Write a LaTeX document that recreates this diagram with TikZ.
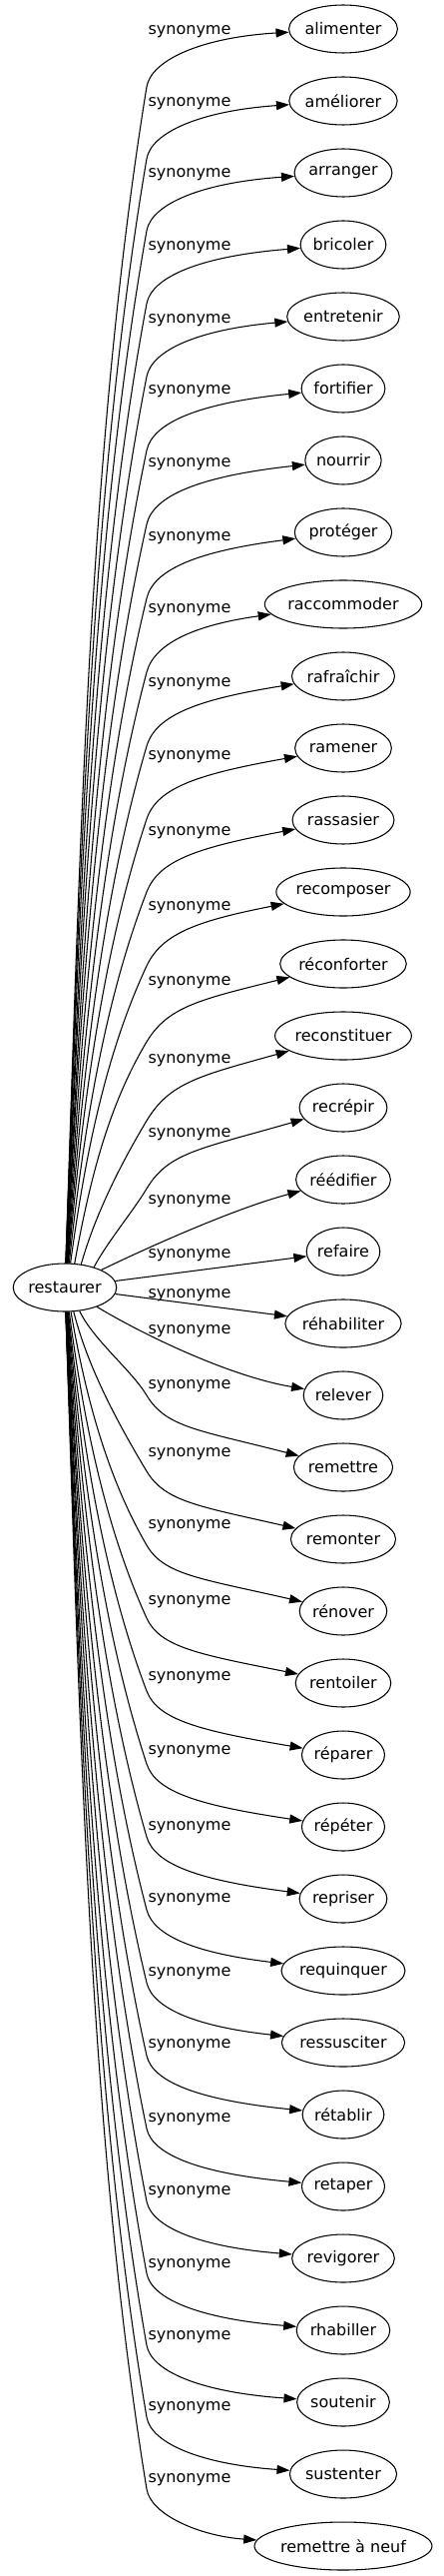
\documentclass[tikz,border=0pt]{standalone}
\usepackage{fontspec}
\setmainfont{DejaVu Sans}
\usetikzlibrary{arrows.meta,calc,shapes.geometric}
\newlength\gvw
\newcommand\gvfont{\fontsize{12}{14}\selectfont}
\begin{document}
\begin{tikzpicture}[x=0.75pt,y=-0.75pt,
  gvnode/.style={draw, ellipse, inner sep=0pt, minimum height=36pt, font=\gvfont, line width=0.8pt},
  lbl/.style={inner sep=0pt, font=\gvfont},
  gvedge/.style={draw, line width=0.8pt, -{Triangle[length=9.75pt,width=6.75pt]}}]
\useasboundingbox (0,0) rectangle (444,2579);
% root
\settowidth{\gvw}{\gvfont restaurer}
\node[gvnode, minimum width={1.274*\gvw+20.18pt}] (root) at (65,1289) {restaurer};
% targets
\foreach \gt [count=\gc] in {alimenter,améliorer,arranger,bricoler,entretenir,fortifier,nourrir,protéger,raccommoder,rafraîchir,ramener,rassasier,recomposer,réconforter,reconstituer,recrépir,réédifier,refaire,réhabiliter,relever,remettre,remonter,rénover,rentoiler,réparer,répéter,repriser,requinquer,ressusciter,rétablir,retaper,revigorer,rhabiller,soutenir,sustenter,remettre à neuf} {
  \settowidth{\gvw}{\gvfont \gt}
  \node[gvnode, minimum width={1.274*\gvw+20.18pt}] (n\gc) at (344,{29+72*(\gc-1)}) {\gt};
}
% labels
\foreach \gy [count=\gc] in {32,104,175,248,321,392,465,539,611,685,758,834,909,984,1062,1136,1203,1257,1297,1333,1388,1456,1528,1604,1680,1754,1830,1902,1976,2048,2122,2195,2268,2340,2411,2483} {
  \node[lbl] (l\gc) at (190,\gy) {synonyme};
}
% curved edges with a bend
\foreach \ei/\eo/\eth/\ep in {1/58/88/6,2/58/88/7,3/58/88/7,4/59/87/8,5/60/87/9,6/62/86/10,7/64/86/11,8/66/85/13,9/68/84/14,10/70/83/16,11/71/82/18,12/72/80/19,13/74/77/20,14/78/68/25,15/85/55/28,16/81/35/29,
  21/-72/-58/26,22/-68/-70/23,23/-66/-76/23,24/-65/-80/20,25/-64/-82/17,26/-63/-83/15,27/-62/-84/13,28/-61/-85/12,29/-60/-86/11,30/-59/-86/10,31/-58/-87/9,32/-57/-87/8,33/-57/-88/8,34/-57/-88/7,35/-57/-88/7,36/-57/-88/7} {
  \pgfmathsetmacro\gvyt{29+72*(\ei-1)}
  \pgfmathsetmacro\gvyc{\gvyt+\eo}
  \pgfmathsetmacro\gvdir{ifthenelse(\eo>0,-1,1)}
  \pgfmathsetmacro\gvL{abs(\gvyc-1289)-24}
  \pgfmathsetmacro\gva{81/\gvL}
  \pgfmathsetmacro\gvsz{0.5*\gva}
  \pgfmathsetmacro\gvso{min(1.5*\gva+0.06,0.6)}
  \pgfmathsetmacro\gvk{0.35*\gvL}
  \pgfmathsetmacro\gvm{0.3*\gvL}
  \pgfmathsetmacro\gvq{0.45*abs(\eo)}
  \draw[gvedge] (root.\eth) .. controls ($(root.\eth)+({\gvsz*\gvk},{(\gvdir)*\gvk})$) and ({147-\gvso*\gvm},{\gvyc-(\gvdir)*\gvm}) .. (147,\gvyc) .. controls ({147+\gvso*\gvq},{\gvyc+(\gvdir)*\gvq}) and (200,{\gvyt-(\gvdir)*1.43*\ep}) .. (n\ei);
}
% near edges
\draw[gvedge] (root) .. controls (150,1248) and (235,1210) .. (n17);
\draw[gvedge] (root) -- (n18);
\draw[gvedge] (root) -- (n19);
\draw[gvedge] (root) .. controls (143,1336) and (230,1378) .. (n20);
\end{tikzpicture}
\end{document}
